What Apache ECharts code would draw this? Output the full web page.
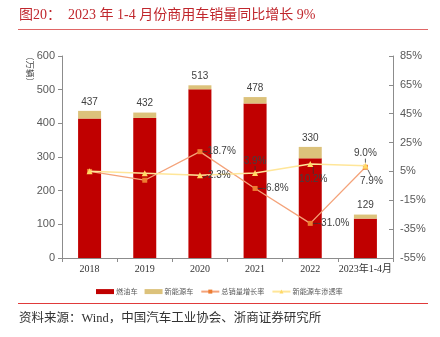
<!DOCTYPE html>
<html><head><meta charset="utf-8">
<script src="https://cdn.jsdelivr.net/npm/echarts@6/dist/echarts.min.js"></script>
<style>html,body{margin:0;padding:0;background:#fff}#c{width:440px;height:337px}</style>
</head><body><div id="c"></div>
<script>
// Commercial vehicle sales, 10k units, and rates in %
const categories = ['2018', '2019', '2020', '2021', '2022', '2023年1-4月'];
const totalSales = [437, 432, 513, 478, 330, 129];
const nevSales = [23, 16, 12, 19, 34, 12];
const growthRate = [5.0, -1.1, 18.7, -6.8, -31.0, 7.9];
const nevShare = [5.2, 3.7, 2.3, 3.9, 10.2, 9.0];
const leftTicks = [0, 100, 200, 300, 400, 500, 600];
const rightTicks = [-55, -35, -15, 5, 25, 45, 65, 85];

const fuelSales = totalSales.map((t, i) => t - nevSales[i]);

const SANS = '"Liberation Sans", Arial, "Noto Sans CJK SC", sans-serif';
const SERIF = '"Liberation Serif", "Times New Roman", "Noto Sans CJK SC", serif';

// which rate points carry a label, and where
const growthLabelAt = { 2: 'right', 3: 'right', 4: 'right', 5: 'bottom' };
const shareLabelAt = { 2: 'right', 3: 'top', 4: 'bottom', 5: 'top' };

function ratePoints(values, where) {
  return values.map((v, i) => {
    const pos = where[i];
    if (!pos) return { value: v, label: { show: false } };
    return { value: v, label: { show: true, position: pos, distance: pos === 'right' ? 5 : 4 } };
  });
}

const chart = echarts.init(document.getElementById('c'), null, { renderer: 'canvas' });
chart.setOption({
  animation: false,
  backgroundColor: '#fff',
  grid: { left: 62, right: 47, top: 56, bottom: 79 },
  graphic: [
    { type: 'text', left: 19, top: 8, style: { text: '图20：  2023 年 1-4 月份商用车销量同比增长 9%', font: '14px ' + SERIF, fill: '#c0272d' } },
    { type: 'line', shape: { x1: 18, y1: 29.5, x2: 428, y2: 29.5 }, style: { stroke: '#e06666', lineWidth: 1 } },
    { type: 'text', x: 34, y: 52, rotation: -Math.PI / 2, style: { text: '（万辆）', font: '8.5px ' + SANS, fill: '#404040' } },
    { type: 'line', shape: { x1: 18, y1: 303.5, x2: 428, y2: 303.5 }, style: { stroke: '#e03a3a', lineWidth: 1.2 } },
    { type: 'text', left: 19, top: 312, style: { text: '资料来源：Wind，中国汽车工业协会、浙商证券研究所', font: '12.5px ' + SERIF, fill: '#333' } }
  ],
  legend: {
    left: 91, top: 283,
    itemWidth: 18, itemHeight: 5, itemGap: 7,
    textStyle: { fontSize: 7.2, color: '#595959', fontFamily: SANS, padding: [0, 0, 0, -3] },
    data: [
      { name: '燃油车', icon: 'rect' },
      { name: '新能源车', icon: 'rect' },
      { name: '总销量增长率' },
      { name: '新能源车渗透率' }
    ]
  },
  xAxis: {
    type: 'category', data: categories,
    axisLine: { lineStyle: { color: '#8c8c8c' } },
    axisTick: { show: true, length: 4, lineStyle: { color: '#8c8c8c' } },
    axisLabel: { fontFamily: SERIF, fontSize: 10, color: '#333', margin: 6, interval: 0 }
  },
  yAxis: [
    {
      type: 'value', min: 0, max: 600, interval: 100,
      axisLine: { show: true, lineStyle: { color: '#8c8c8c' } },
      axisTick: { show: true, length: 4, lineStyle: { color: '#8c8c8c' } },
      axisLabel: { fontFamily: SANS, fontSize: 11, color: '#595959', margin: 7 },
      splitLine: { show: false }
    },
    {
      type: 'value', min: -55, max: 85,
      axisLine: { show: true, lineStyle: { color: '#8c8c8c' } },
      axisTick: { show: true, inside: true, length: 4, customValues: rightTicks, lineStyle: { color: '#8c8c8c' } },
      axisLabel: { fontFamily: SANS, fontSize: 11, color: '#595959', margin: 7, customValues: rightTicks, formatter: v => v + '%' },
      splitLine: { show: false }
    }
  ],
  series: [
    {
      name: '燃油车', type: 'bar', stack: 'sales', data: fuelSales,
      barWidth: 23, itemStyle: { color: '#c00000' }
    },
    {
      name: '新能源车', type: 'bar', stack: 'sales', data: nevSales,
      barWidth: 23, itemStyle: { color: '#dcc27b' },
      label: {
        show: true, position: 'top', distance: 4,
        fontFamily: SANS, fontSize: 10, color: '#404040',
        formatter: p => totalSales[p.dataIndex]
      }
    },
    {
      name: '总销量增长率', type: 'line', yAxisIndex: 1,
      data: ratePoints(growthRate, growthLabelAt),
      symbol: 'rect', symbolSize: 5,
      lineStyle: { color: '#f4a37a', width: 1.3 },
      itemStyle: { color: '#ed7d31' },
      label: { fontFamily: SANS, fontSize: 10, color: '#404040', formatter: p => p.value.toFixed(1) + '%' },
      labelLayout: p => (p.dataIndex === 5 ? { dx: 6, dy: 3 } : {}),
      labelLine: { show: true, length2: 0, lineStyle: { color: '#333', width: 0.8 } },
      z: 3
    },
    {
      name: '新能源车渗透率', type: 'line', yAxisIndex: 1,
      data: ratePoints(nevShare, shareLabelAt),
      symbol: 'triangle', symbolSize: 6,
      lineStyle: { color: '#ffe699', width: 1.5 },
      itemStyle: { color: '#ffd966' },
      label: { fontFamily: SANS, fontSize: 10, color: '#404040', formatter: p => p.value.toFixed(1) + '%' },
      labelLayout: p => (p.dataIndex === 4 ? { dx: 3, dy: 3 } : {}),
      labelLine: { show: true, length2: 0, lineStyle: { color: '#333', width: 0.8 } },
      z: 4
    }
  ]
});
</script>
</body></html>
